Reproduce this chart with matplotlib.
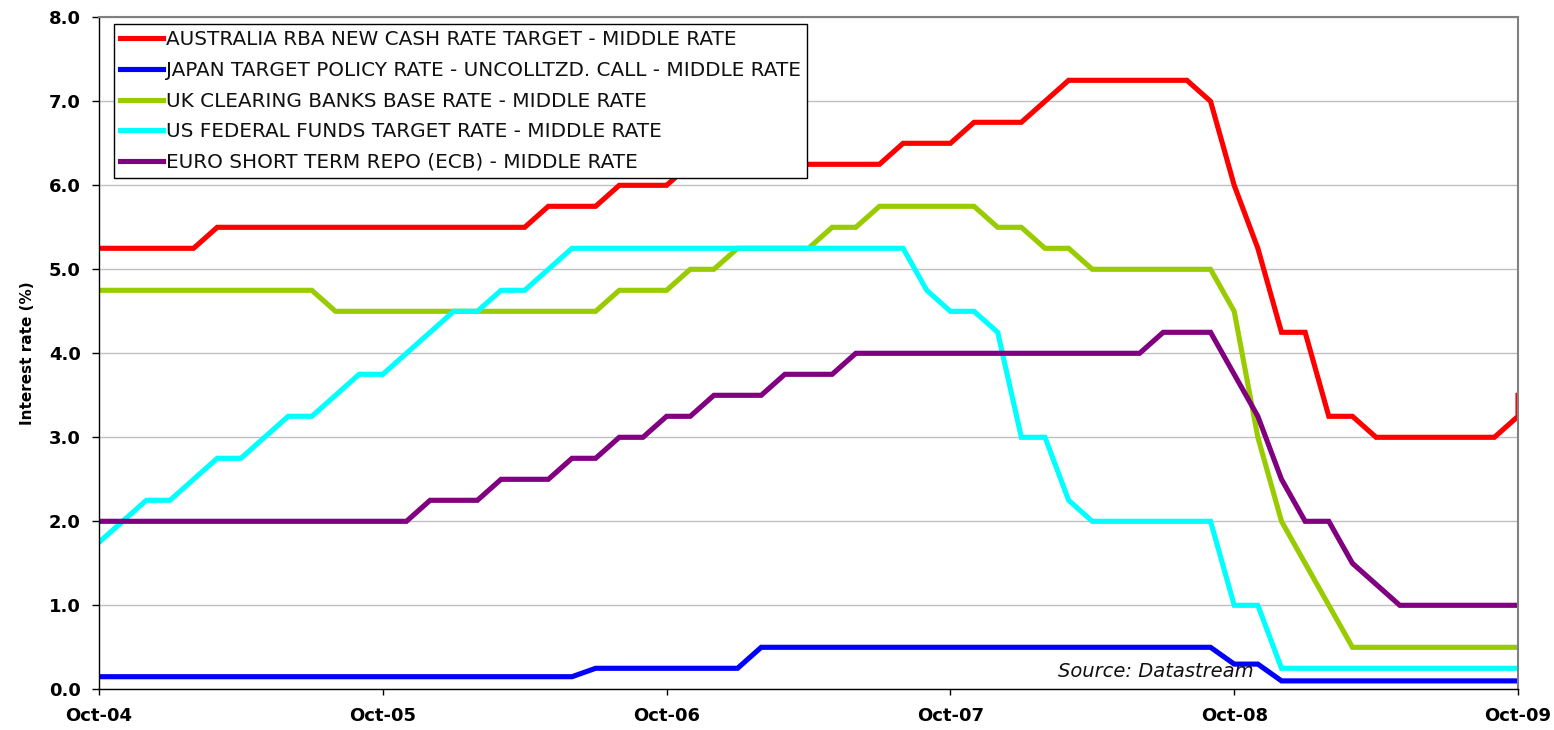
import matplotlib
matplotlib.use("Agg")
import matplotlib.pyplot as plt

# ---- data (monthly, Oct-04 .. Oct-09) ----
months = list(range(61))
tick_pos = [0, 12, 24, 36, 48, 60]
tick_labels = ["Oct-04", "Oct-05", "Oct-06", "Oct-07", "Oct-08", "Oct-09"]

australia = ([5.25] * 5 + [5.5] * 14 + [5.75] * 3 + [6.0] * 3 + [6.25] * 9 +
             [6.5] * 3 + [6.75] * 3 + [7.0] + [7.25] * 6 + [7.0, 6.0, 5.25] +
             [4.25] * 2 + [3.25] * 2 + [3.0] * 6 + [3.25, 3.5])
australia_x = months + [60]

japan = [0.15] * 21 + [0.25] * 7 + [0.5] * 20 + [0.3] * 2 + [0.1] * 11

uk = ([4.75] * 10 + [4.5] * 12 + [4.75] * 3 + [5.0] * 2 + [5.25] * 4 +
      [5.5] * 2 + [5.75] * 5 + [5.5] * 2 + [5.25] * 2 + [5.0] * 6 +
      [4.5, 3.0, 2.0, 1.5, 1.0] + [0.5] * 8)

us = ([1.75, 2.0, 2.25, 2.25, 2.5, 2.75, 2.75, 3.0, 3.25, 3.25, 3.5, 3.75, 3.75,
       4.0, 4.25, 4.5, 4.5, 4.75, 4.75, 5.0] + [5.25] * 15 +
      [4.75, 4.5, 4.5, 4.25, 3.0, 3.0, 2.25] + [2.0] * 6 + [1.0] * 2 + [0.25] * 11)

euro = ([2.0] * 14 + [2.25] * 3 + [2.5] * 3 + [2.75] * 2 + [3.0] * 2 + [3.25] * 2 +
        [3.5] * 3 + [3.75] * 3 + [4.0] * 13 + [4.25] * 3 +
        [3.75, 3.25, 2.5, 2.0, 2.0, 1.5, 1.25] + [1.0] * 6)

labels = [
    "AUSTRALIA RBA NEW CASH RATE TARGET - MIDDLE RATE",
    "JAPAN TARGET POLICY RATE - UNCOLLTZD. CALL - MIDDLE RATE",
    "UK CLEARING BANKS BASE RATE - MIDDLE RATE",
    "US FEDERAL FUNDS TARGET RATE - MIDDLE RATE",
    "EURO SHORT TERM REPO (ECB) - MIDDLE RATE",
]
colors = ["#FF0000", "#0000FF", "#99CC00", "#00FFFF", "#800080"]

plt.rcParams['font.family'] = ['DejaVu Sans']

fig = plt.figure(figsize=(15.54, 7.30), dpi=100)
ax = fig.add_axes([99 / 1554, 1 - 689.3 / 730, (1518 - 99) / 1554, (689.3 - 17.3) / 730])

lw = 3.7
ax.plot(australia_x, australia, color=colors[0], lw=lw, label=labels[0], solid_joinstyle='miter')
ax.plot(months, japan, color=colors[1], lw=lw, label=labels[1], solid_joinstyle='miter')
ax.plot(months, uk, color=colors[2], lw=lw, label=labels[2], solid_joinstyle='miter')
ax.plot(months, us, color=colors[3], lw=lw, label=labels[3], solid_joinstyle='miter')
ax.plot(months, euro, color=colors[4], lw=lw, label=labels[4], solid_joinstyle='miter')

ax.set_xlim(0, 60)
ax.set_ylim(0, 8)
ax.set_yticks([i * 1.0 for i in range(9)])
ax.set_yticklabels([f"{i:.1f}" for i in range(9)], fontsize=13, fontweight='bold')
ax.set_xticks(tick_pos)
ax.set_xticklabels(tick_labels, fontsize=13, fontweight='bold')
ax.tick_params(axis='y', direction='out', length=5, width=1, pad=8, colors='black')
ax.tick_params(axis='x', direction='out', length=4.5, width=1, pad=8, colors='black')

ax.grid(axis='y', color='#C0C0C0', lw=1)
ax.set_axisbelow(True)
for s in ['top', 'right']:
    ax.spines[s].set_color('#808080')
    ax.spines[s].set_linewidth(1.5)
for s in ['left', 'bottom']:
    ax.spines[s].set_color('black')
    ax.spines[s].set_linewidth(1)

ax.set_ylabel("Interest rate (%)", fontsize=11, fontweight='bold', labelpad=10)

leg = ax.legend(loc='upper left', bbox_to_anchor=((114 - 99) / 1419, (689.3 - 24) / 672),
                borderaxespad=0, fancybox=False, frameon=True, edgecolor='black',
                framealpha=1, facecolor='white',
                fontsize=14.4, handlelength=2.15, handletextpad=0.12,
                labelspacing=0.58, borderpad=0.32)
leg.get_frame().set_linewidth(1)
for t in leg.get_texts():
    t.set_color('#111111')

ax.text((1058 - 99) / 1419, 0.012, "Source: Datastream", transform=ax.transAxes, fontsize=14,
        style='italic', ha='left', va='bottom', color='#111111')

fig.savefig("out.png", dpi=100)
